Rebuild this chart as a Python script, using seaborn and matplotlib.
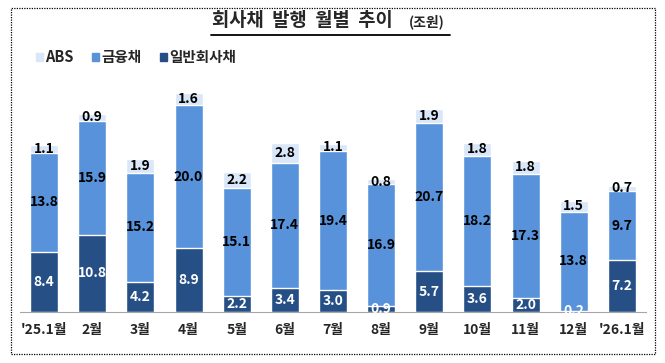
import numpy as np
import pandas as pd
import matplotlib
matplotlib.use("Agg")
import matplotlib.pyplot as plt
import matplotlib.patches as mpatches
from matplotlib.lines import Line2D
import seaborn as sns

# 월별 회사채 발행 (조원)
months = ["'25.1월", "2월", "3월", "4월", "5월", "6월", "7월", "8월", "9월", "10월", "11월", "12월", "'26.1월"]
general = [8.4, 10.8, 4.2, 8.9, 2.2, 3.4, 3.0, 0.9, 5.7, 3.6, 2.0, 0.2, 7.2]   # 일반회사채
financial = [13.8, 15.9, 15.2, 20.0, 15.1, 17.4, 19.4, 16.9, 20.7, 18.2, 17.3, 13.8, 9.7]  # 금융채
abs_ = [1.1, 0.9, 1.9, 1.6, 2.2, 2.8, 1.1, 0.8, 1.9, 1.8, 1.8, 1.5, 0.7]   # ABS

c_gen = "#264F86"
c_fin = "#5892DA"
c_abs = "#D9E7F8"

sns.set_style("white")
plt.rcParams['font.family'] = ['Noto Sans CJK KR', 'DejaVu Sans']

df = pd.DataFrame({"month": months, "gen": general, "fin": financial, "abs": abs_})
df["lvl2"] = df["gen"] + df["fin"]
df["total"] = df["lvl2"] + df["abs"]

fig = plt.figure(figsize=(6.65, 3.63), dpi=100)
ax = fig.add_axes([20/665, 51/363, 626/665, 229.4/363])

w = 0.58
sns.barplot(data=df, x="month", y="total", color=c_abs, width=w, saturation=1, ax=ax)
sns.barplot(data=df, x="month", y="lvl2", color=c_fin, width=w, saturation=1, ax=ax)
sns.barplot(data=df, x="month", y="gen", color=c_gen, width=w, saturation=1, ax=ax)

fs = 10
for i, r in df.iterrows():
    ax.text(i, r["gen"] / 2, f"{r['gen']:.1f}", ha="center", va="center",
            color="white", fontsize=fs, fontweight="bold")
    ax.text(i, r["gen"] + r["fin"] / 2, f"{r['fin']:.1f}", ha="center", va="center",
            color="black", fontsize=fs, fontweight="bold")
    ax.text(i, r["lvl2"] + r["abs"] / 2, f"{r['abs']:.1f}", ha="center", va="center",
            color="black", fontsize=fs, fontweight="bold")

ax.set_xlim(-0.5, 12.5)
ax.set_ylim(0, 32)
ax.set_xlabel("")
ax.set_ylabel("")
ax.set_yticks([])
for s in ["top", "right", "left"]:
    ax.spines[s].set_visible(False)
ax.spines["bottom"].set_color("#A6A6A6")
ax.set_xticks(np.arange(-0.5, 13, 1), minor=True)
ax.tick_params(axis="x", which="minor", length=5, color="#A6A6A6", width=1)
ax.tick_params(axis="x", which="major", length=0, pad=8, labelsize=10)
for lab in ax.get_xticklabels():
    lab.set_fontweight("bold")

# 제목
fig.text(212/665, 1 - 21/363, "회사채  발행  월별  추이", ha="left", va="center",
         fontsize=13.5, fontweight="heavy")
fig.text(427/665, 1 - 22/363, "(조원)", ha="center", va="center",
         fontsize=10, fontweight="bold")
fig.add_artist(Line2D([211/665, 450/665], [1 - 35/363, 1 - 35/363], color="black", lw=1.3))

# 범례
handles = [mpatches.Patch(color=c_abs, label="ABS"),
           mpatches.Patch(color=c_fin, label="금융채"),
           mpatches.Patch(color=c_gen, label="일반회사채")]
leg = fig.legend(handles=handles, loc="center left", bbox_to_anchor=(30/665, 1 - 57/363),
                 ncol=3, frameon=False, handlelength=0.5, handleheight=0.5,
                 handletextpad=0.2, columnspacing=1.3, borderaxespad=0)
for t in leg.get_texts():
    t.set_fontweight("bold")
    t.set_fontsize(10.5)

# 점선 테두리
fig.add_artist(mpatches.Rectangle((11/665, 9/363), 644/665, 346/363, fill=False,
                                  linestyle=(0, (1, 1)), lw=0.9, edgecolor="black",
                                  transform=fig.transFigure))

fig.savefig("out.png", dpi=100)
